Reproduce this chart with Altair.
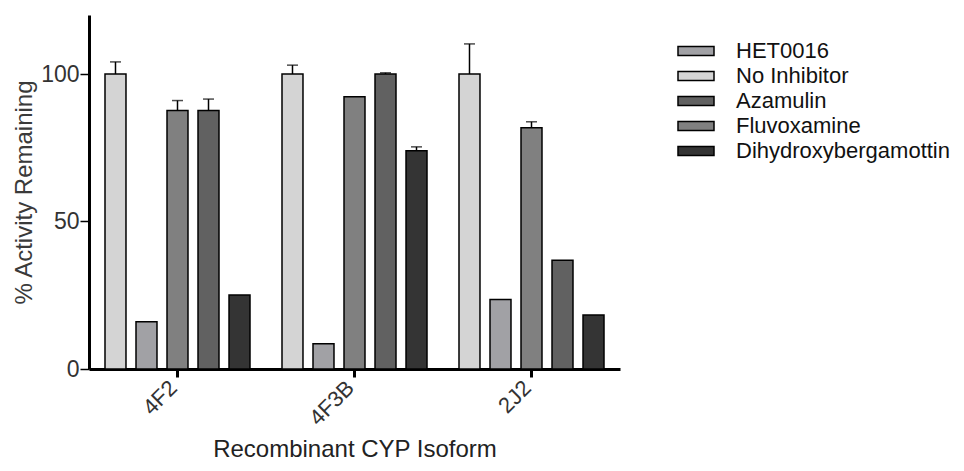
import altair as alt
import pandas as pd

isoforms = ["4F2", "4F3B", "2J2"]
legend_order = ["HET0016", "No Inhibitor", "Azamulin", "Fluvoxamine", "Dihydroxybergamottin"]
bar_order = ["No Inhibitor", "HET0016", "Fluvoxamine", "Azamulin", "Dihydroxybergamottin"]

het0016 = [16.0, 8.6, 23.6]
no_inhibitor = [100.0, 100.0, 100.0]
azamulin = [87.6, 100.0, 36.9]
fluvoxamine = [87.6, 92.3, 81.8]
dihydroxybergamottin = [25.1, 74.0, 18.3]

het0016_err = [0.0, 0.0, 0.0]
no_inhibitor_err = [4.1, 3.0, 10.2]
azamulin_err = [3.9, 0.4, 0.0]
fluvoxamine_err = [3.4, 0.0, 2.0]
dihydroxybergamottin_err = [0.0, 1.3, 0.0]

series = {
    "HET0016": (het0016, het0016_err),
    "No Inhibitor": (no_inhibitor, no_inhibitor_err),
    "Azamulin": (azamulin, azamulin_err),
    "Fluvoxamine": (fluvoxamine, fluvoxamine_err),
    "Dihydroxybergamottin": (dihydroxybergamottin, dihydroxybergamottin_err),
}

rows = []
for t, (vals, errs) in series.items():
    for iso, v, e in zip(isoforms, vals, errs):
        rows.append({"isoform": iso, "treatment": t, "value": v, "err": e, "top": v + e})
df = pd.DataFrame(rows)

FONT = "Liberation Sans"

x_enc = alt.X(
    "isoform:N",
    sort=isoforms,
    scale=alt.Scale(paddingInner=0, paddingOuter=0),
    axis=alt.Axis(
        title="Recombinant CYP Isoform",
        labelAngle=-45,
        labelAlign="right",
        labelBaseline="middle",
        labelFontSize=22,
        labelColor="#333333",
        labelPadding=7,
        labelOffset=-4,
        titleFontSize=24,
        titleFontWeight="normal",
        titleColor="#222222",
        titlePadding=9,
        domainColor="black",
        domainWidth=3,
        tickColor="black",
        tickWidth=3,
        tickSize=8,
    ),
)
xoff_enc = alt.XOffset(
    "treatment:N",
    sort=bar_order,
    scale=alt.Scale(paddingInner=0.323, paddingOuter=0.516),
)

base = alt.Chart(df).encode(x=x_enc, xOffset=xoff_enc)

bars = base.mark_bar(stroke="black", strokeWidth=1.5).encode(
    y=alt.Y(
        "value:Q",
        scale=alt.Scale(domain=[0, 120], nice=False),
        axis=alt.Axis(
            title="% Activity Remaining",
            values=[0, 50, 100],
            grid=False,
            labelFontSize=23,
            labelColor="#333333",
            labelPadding=1,
            titleFontSize=24,
            titleFontWeight="normal",
            titleColor="#3a3a3a",
            titlePadding=4,
            domainColor="black",
            domainWidth=3,
            tickColor="black",
            tickWidth=1.5,
            tickSize=9,
        ),
    ),
    color=alt.Color(
        "treatment:N",
        scale=alt.Scale(
            domain=legend_order,
            range=["#a1a1a5", "#d4d4d4", "#616161", "#808080", "#343434"],
        ),
        legend=alt.Legend(
            title=None,
            orient="none",
            legendX=596,
            legendY=25,
            padding=0,
            symbolType="M-1.8,-0.45H1.8V0.45H-1.8Z",
            symbolSize=400,
            symbolStrokeColor="black",
            symbolStrokeWidth=1.5,
            symbolOpacity=1,
            labelFontSize=22,
            labelColor="#111111",
            labelLimit=400,
            labelOffset=29,
            rowPadding=3,
        ),
    ),
)

err_rules = base.transform_filter("datum.err > 0").mark_rule(
    color="black", strokeWidth=1.5
).encode(y="value:Q", y2="top:Q")

err_caps = base.transform_filter("datum.err > 0").mark_tick(
    color="black", thickness=1.5, size=11, orient="horizontal"
).encode(y="top:Q")

chart = (
    alt.layer(bars, err_rules, err_caps)
    .properties(
        width=531,
        height=354,
        autosize=alt.AutoSizeParams(type="none"),
        padding={"left": 81, "top": 7, "right": 335, "bottom": 93},
    )
    .configure(font=FONT)
    .configure_view(stroke=None)
)

chart.save("out.html", embed_options={"renderer": "svg", "actions": False})
